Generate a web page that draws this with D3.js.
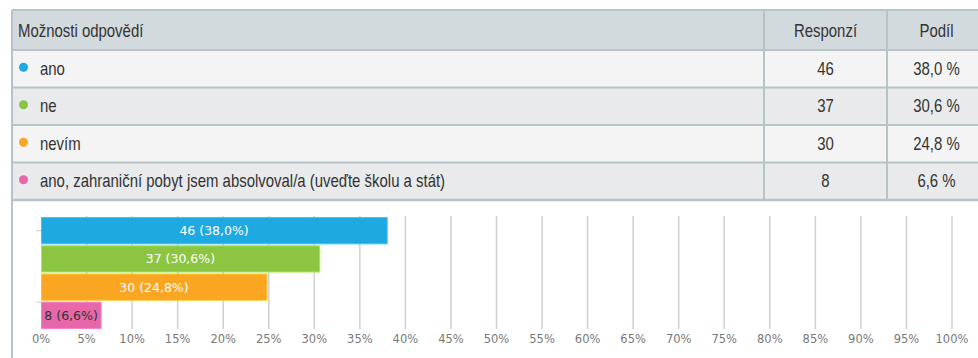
<!DOCTYPE html>
<html>
<head>
<meta charset="utf-8">
<script src="https://cdn.jsdelivr.net/npm/d3@7"></script>
<style>
  html, body { margin: 0; padding: 0; background: #ffffff; }
  svg { display: block; }
</style>
</head>
<body>
<svg id="chart" width="978" height="358"></svg>
<script>
// Survey answers
const categories = ["ano", "ne", "nevím", "ano, zahraniční pobyt jsem absolvoval/a (uveďte školu a stát)"];
const counts = [46, 37, 30, 8];
const shares = [38.0, 30.6, 24.8, 6.6];
const colors = ["#1fa9e1", "#8bc541", "#faa623", "#e668a9"];
const headers = ["Možnosti odpovědí", "Responzí", "Podíl"];
const xTicks = d3.range(0, 101, 5);

const svg = d3.select("#chart");
const comma = v => v.toFixed(1).replace(".", ",");

// ---- Table ----
const tableFont = "'Liberation Sans', sans-serif";
const tableSize = 18, narrow = 0.83;   // condensed look: squeeze glyphs horizontally
const colX = [12, 764, 887, 990];
const headerTop = 10, headerBottom = 50;
const rowY = d3.scaleBand().domain(d3.range(categories.length)).range([50, 200]).padding(0);
const table = svg.append("g");

function cellText(parent, tx, ty, str, anchor) {
  parent.append("g").attr("transform", `translate(${tx},${ty}) scale(${narrow},1)`)
    .append("text").attr("text-anchor", anchor || "start").text(str)
    .attr("font-family", tableFont).attr("font-size", tableSize).attr("fill", "#333");
}

table.append("rect").attr("x", colX[0]).attr("y", headerTop)
  .attr("width", colX[3] - colX[0]).attr("height", headerBottom - headerTop).attr("fill", "#d3dadd");

table.selectAll("rect.row").data(categories).join("rect").attr("class", "row")
  .attr("x", colX[0]).attr("y", (d, i) => rowY(i))
  .attr("width", colX[3] - colX[0]).attr("height", rowY.bandwidth())
  .attr("fill", (d, i) => i % 2 === 0 ? "#f4f4f4" : "#e8eaeb");

// grid lines of the table
const lineColor = "#b8c3c7";
[headerTop, headerBottom].concat(categories.map((d, i) => rowY(i) + rowY.bandwidth())).forEach((y, k, arr) => {
  table.append("line").attr("x1", colX[0]).attr("x2", colX[3]).attr("y1", y).attr("y2", y)
    .attr("stroke", lineColor).attr("stroke-width", k === arr.length - 1 ? 2.5 : 2);
});
colX.slice(0, 3).forEach(x => {
  table.append("line").attr("x1", x).attr("x2", x).attr("y1", headerTop).attr("y2", 200)
    .attr("stroke", lineColor).attr("stroke-width", 2);
});

// header text
cellText(table, 18, 37, headers[0]);
cellText(table, (colX[1] + colX[2]) / 2, 37, headers[1], "middle");
cellText(table, (colX[2] + colX[3]) / 2 - 2, 37, headers[2], "middle");

// rows
categories.forEach((cat, i) => {
  const cy = rowY(i) + rowY.bandwidth() / 2;
  table.append("circle").attr("cx", 23.5).attr("cy", cy - 1.5).attr("r", 4.5).attr("fill", colors[i]);
  cellText(table, 40, cy + 6, cat);
  cellText(table, (colX[1] + colX[2]) / 2, cy + 6, counts[i], "middle");
  cellText(table, (colX[2] + colX[3]) / 2 - 2, cy + 6, comma(shares[i]) + " %", "middle");
});

// left border of the chart panel
svg.append("line").attr("x1", 12).attr("x2", 12).attr("y1", 200).attr("y2", 358)
  .attr("stroke", lineColor).attr("stroke-width", 2);

// ---- Bar chart ----
const chartFont = "'DejaVu Sans', sans-serif";
const x = d3.scaleLinear().domain([0, 100]).range([41, 952]);
const y = d3.scaleBand().domain(d3.range(categories.length)).range([217, 329]).paddingInner(0.07).paddingOuter(0.02);
const gridTop = 216, gridBottom = 329;
const chart = svg.append("g");

// vertical grid
chart.selectAll("line.grid").data(xTicks.filter(t => t > 0)).join("line").attr("class", "grid")
  .attr("x1", d => x(d)).attr("x2", d => x(d)).attr("y1", gridTop).attr("y2", gridBottom)
  .attr("stroke", "#d0d0d0").attr("stroke-width", 1.5);

// small y-axis ticks
chart.selectAll("line.ytick").data([0, 3]).join("line").attr("class", "ytick")
  .attr("x1", 36).attr("x2", 41)
  .attr("y1", (d, i) => i === 0 ? y(d) + y.bandwidth() / 2 : y(d)).attr("y2", (d, i) => i === 0 ? y(d) + y.bandwidth() / 2 : y(d))
  .attr("stroke", "#c8c8c8");

// x tick labels
chart.selectAll("text.xt").data(xTicks).join("text").attr("class", "xt")
  .attr("x", d => x(d)).attr("y", 343).attr("text-anchor", "middle")
  .attr("font-family", chartFont).attr("font-size", 11.5).attr("fill", "#7a7a7a")
  .text(d => d + "%");

// bars
chart.selectAll("rect.bar").data(shares).join("rect").attr("class", "bar")
  .attr("x", x(0) + 0.5).attr("y", (d, i) => y(i))
  .attr("width", d => x(d) - x(0) - 0.5).attr("height", y.bandwidth())
  .attr("fill", (d, i) => colors[i])
  .attr("stroke", (d, i) => d3.color(colors[i]).brighter(0.5)).attr("stroke-width", 1);

// bar labels
chart.selectAll("text.bl").data(shares).join("text").attr("class", "bl")
  .attr("x", d => (x(0) + x(d)) / 2).attr("y", (d, i) => y(i) + y.bandwidth() / 2 + 4.5)
  .attr("text-anchor", "middle")
  .attr("font-family", chartFont).attr("font-size", 12.5)
  .attr("fill", (d, i) => i === 3 ? "#333333" : "#ffffff")
  .text((d, i) => `${counts[i]} (${comma(d)}%)`);
</script>
</body>
</html>
